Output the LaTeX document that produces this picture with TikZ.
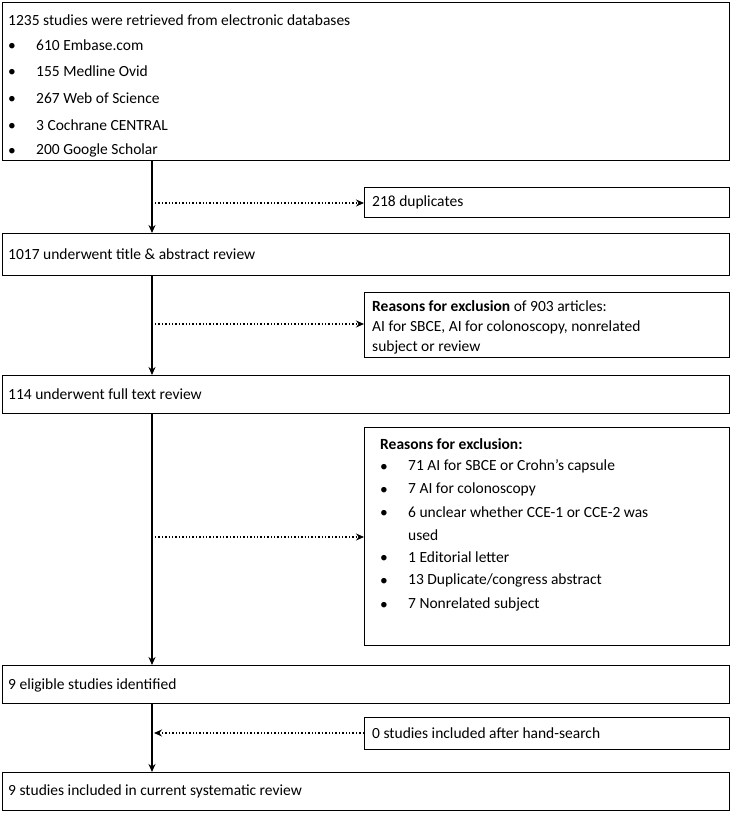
\documentclass[tikz,border=0pt]{standalone}
\usepackage{fontspec}
\setmainfont{Carlito}
\usetikzlibrary{arrows.meta}
\begin{document}
\begin{tikzpicture}[x=1pt,y=-1pt,
  bx/.style={draw,line width=0.8pt,inner sep=0pt},
  txt/.style={anchor=west,font=\fontsize{15.5}{26}\selectfont,inner sep=0pt},
  bul/.style={anchor=west,font=\fontsize{15.5}{26}\selectfont,inner sep=0pt,yshift=-2pt},
  solidarr/.style={line width=1.6pt,-{Stealth[length=8pt,width=7pt]}},
  dotarr/.style={line width=1.4pt,dotted,-{Stealth[length=8pt,width=7pt]}}]
\useasboundingbox (0,0) rectangle (741,814);
\draw[bx] (2,2) rectangle (729,160);
\node[txt] at (8,20) {1235 studies were retrieved from electronic databases};
\foreach \y/\t in {45/{610 Embase.com},71/{155 Medline Ovid},98/{267 Web of Science},125/{3 Cochrane CENTRAL},150/{200 Google Scholar}}
  {\node[bul] at (8,\y) {\textbullet}; \node[txt] at (36,\y) {\t};}
\draw[bx] (364,187) rectangle (729,217);
\node[txt] at (372,202) {218 duplicates};
\draw[bx] (2,233) rectangle (729,275);
\node[txt] at (8,254) {1017 underwent title \& abstract review};
\draw[bx] (364,292) rectangle (729,357);
\node[txt] at (372,306) {\textbf{Reasons for exclusion} of 903 articles:};
\node[txt] at (372,327) {AI for SBCE, AI for colonoscopy, nonrelated};
\node[txt] at (372,347) {subject or review};
\draw[bx] (2,375) rectangle (729,413);
\node[txt] at (8,394) {114 underwent full text review};
\draw[bx] (364,427) rectangle (729,645);
\node[txt] at (380,444) {\textbf{Reasons for exclusion:}};
\foreach \y/\t in {466/{71 AI for SBCE or Crohn’s capsule},489/{7 AI for colonoscopy},512/{6 unclear whether CCE-1 or CCE-2 was},557/{1 Editorial letter},580/{13 Duplicate/congress abstract},604/{7 Nonrelated subject}}
  {\node[bul] at (380,\y) {\textbullet}; \node[txt] at (408,\y) {\t};}
\node[txt] at (408,535) {used};
\draw[bx] (2,665) rectangle (729,703);
\node[txt] at (8,685) {9 eligible studies identified};
\draw[bx] (364,717) rectangle (729,749);
\node[txt] at (372,733) {0 studies included after hand-search};
\draw[bx] (2,772) rectangle (729,810);
\node[txt] at (8,791) {9 studies included in current systematic review};
\coordinate (a1) at (152,160); \coordinate (a2) at (152,233);
\coordinate (a3) at (152,275); \coordinate (a4) at (152,375);
\coordinate (a5) at (152,413); \coordinate (a6) at (152,665);
\coordinate (a7) at (152,703); \coordinate (a8) at (152,772);
\draw[solidarr] (a1) -- (a2);
\draw[solidarr] (a3) -- (a4);
\draw[solidarr] (a5) -- (a6);
\draw[solidarr] (a7) -- (a8);
\coordinate (d1) at (155,203); \coordinate (e1) at (364,203);
\coordinate (d2) at (155,324); \coordinate (e2) at (364,324);
\coordinate (d3) at (155,537); \coordinate (e3) at (364,537);
\coordinate (d4) at (154,733); \coordinate (e4) at (364,733);
\draw[dotarr] (d1) -- (e1);
\draw[dotarr] (d2) -- (e2);
\draw[dotarr] (d3) -- (e3);
\draw[dotarr] (e4) -- (d4);
\end{tikzpicture}
\end{document}
